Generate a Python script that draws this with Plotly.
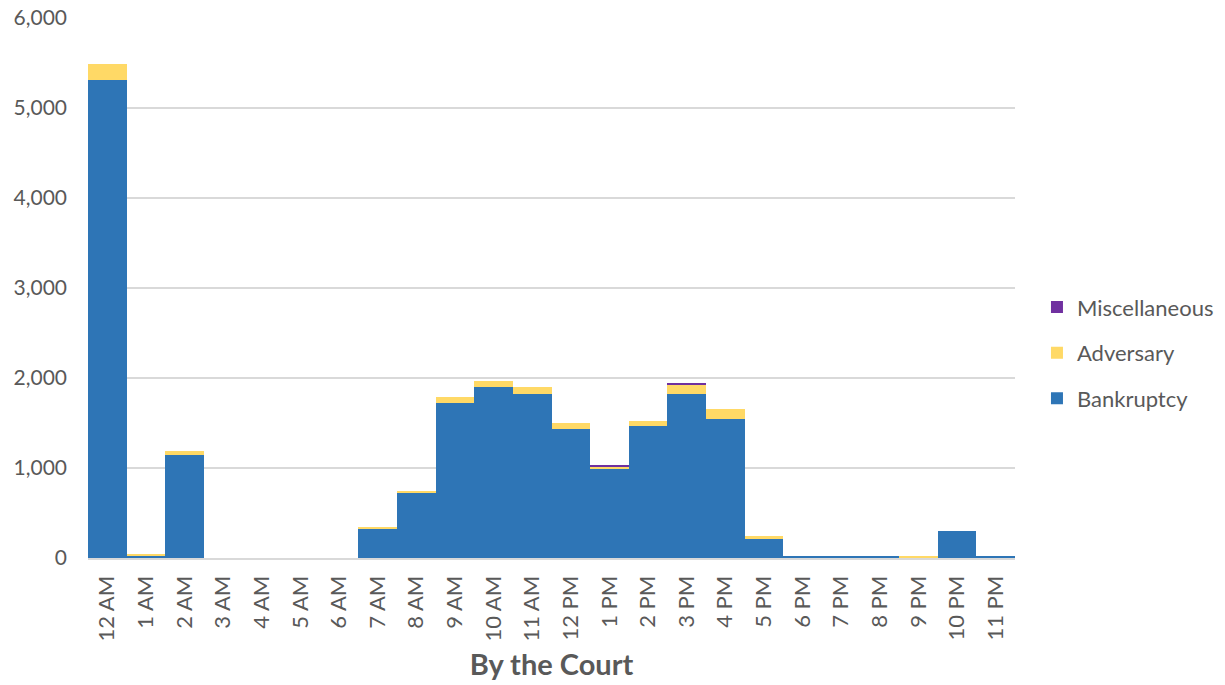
import plotly.graph_objects as go

hours = ["12 AM", "1 AM", "2 AM", "3 AM", "4 AM", "5 AM", "6 AM", "7 AM", "8 AM", "9 AM",
         "10 AM", "11 AM", "12 PM", "1 PM", "2 PM", "3 PM", "4 PM", "5 PM", "6 PM", "7 PM",
         "8 PM", "9 PM", "10 PM", "11 PM"]
bankruptcy = [5310, 25, 1140, 0, 0, 0, 0, 325, 720, 1720,
              1895, 1825, 1430, 990, 1470, 1825, 1540, 215, 20, 20,
              20, 0, 305, 20]
adversary = [180, 15, 50, 0, 0, 0, 0, 25, 25, 70,
             75, 75, 70, 20, 50, 95, 115, 25, 0, 0,
             0, 20, 0, 0]
miscellaneous = [0, 0, 0, 0, 0, 0, 0, 0, 0, 0,
                 0, 0, 0, 25, 0, 25, 0, 0, 0, 0,
                 0, 0, 0, 0]
y_ticks = [0, 1000, 2000, 3000, 4000, 5000, 6000]

FONT = "Lato, Carlito, 'Liberation Sans', sans-serif"
GRAY = "#595959"

fig = go.Figure()
for name, vals, color, rank in [("Bankruptcy", bankruptcy, "#2E75B6", 3),
                                ("Adversary", adversary, "#FFD966", 2),
                                ("Miscellaneous", miscellaneous, "#7030A0", 1)]:
    fig.add_trace(go.Bar(x=hours, y=vals, name=name, marker_color=color,
                         marker_line_width=0, legendgroup=name, legendrank=rank))

fig.update_layout(
    barmode="stack",
    bargap=0,
    width=1245, height=685,
    paper_bgcolor="white", plot_bgcolor="white",
    margin=dict(l=88, r=230, t=18, b=127),
    font=dict(family=FONT, size=18, color=GRAY),
    legend=dict(x=1.0237, y=0.38, xanchor="left", yanchor="middle",
                traceorder="grouped", tracegroupgap=14,
                font=dict(family=FONT, size=22, color=GRAY),
                itemwidth=30),
    xaxis=dict(
        title=dict(text="<b>By the Court</b>", font=dict(family=FONT, size=29, color=GRAY), standoff=14),
        tickangle=-90, tickfont=dict(family=FONT, size=22, color=GRAY),
        showline=True, linecolor="#D9D9D9", linewidth=2,
        ticks="", showgrid=False, automargin=False, ticklabelstandoff=7,
    ),
    yaxis=dict(
        range=[0, 6000], tickvals=y_ticks, tickformat=",",
        tickfont=dict(family=FONT, size=21, color=GRAY),
        showgrid=True, gridcolor="#D9D9D9", gridwidth=1.5,
        zeroline=False, ticks="", ticklen=0, automargin=False, ticklabelstandoff=20,
    ),
)

fig.write_html("out.html", config={"displayModeBar": False})
with open("out.html", "r", encoding="utf-8") as f:
    html = f.read()
html = html.replace("<head>", "<head><style>html,body{margin:0;padding:0;overflow:hidden;}</style>", 1)
with open("out.html", "w", encoding="utf-8") as f:
    f.write(html)
